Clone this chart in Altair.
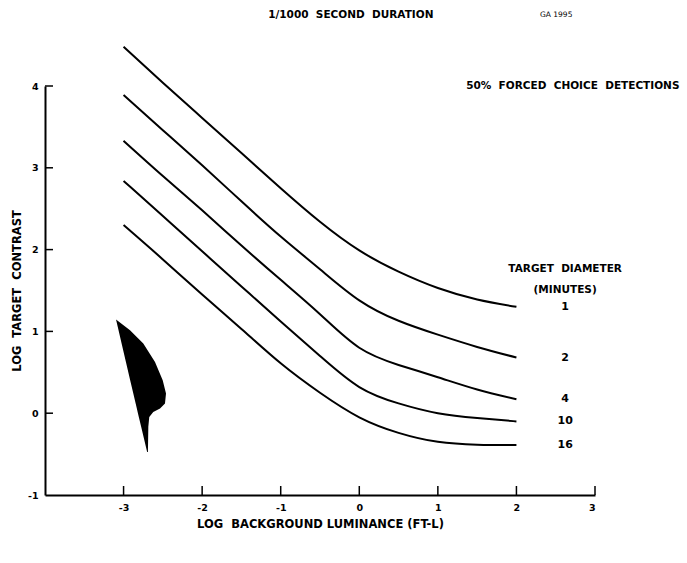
import altair as alt
import pandas as pd

# Log background luminance (ft-L) sample points for every curve
luminance = [-3, -2.5, -2, -1.5, -1, -0.5, 0, 0.5, 1, 1.5, 2]

# Log target contrast at 50% forced-choice detection, per target diameter (minutes)
diam_1 = [4.48, 4.04, 3.61, 3.18, 2.75, 2.34, 1.99, 1.73, 1.53, 1.39, 1.30]
diam_2 = [3.89, 3.46, 3.03, 2.59, 2.16, 1.76, 1.38, 1.13, 0.96, 0.81, 0.68]
diam_4 = [3.33, 2.90, 2.48, 2.05, 1.63, 1.21, 0.80, 0.59, 0.44, 0.29, 0.17]
diam_10 = [2.84, 2.41, 1.98, 1.55, 1.12, 0.70, 0.32, 0.12, 0.00, -0.06, -0.10]
diam_16 = [2.30, 1.88, 1.45, 1.03, 0.61, 0.25, -0.05, -0.24, -0.35, -0.385, -0.39]

diameters = ["1", "2", "4", "10", "16"]
series = [diam_1, diam_2, diam_4, diam_10, diam_16]

# Outline of the filled blot: contrast level, left edge, right edge
blot_y = [1.145, 1.015, 0.852, 0.627, 0.403, 0.241, 0.119, 0.057, 0.016, -0.045, -0.167, -0.473]
blot_left = [-3.096, -3.064, -3.025, -2.970, -2.916, -2.876, -2.846, -2.831, -2.821, -2.806, -2.776, -2.700]
blot_right = [-3.096, -2.918, -2.749, -2.600, -2.502, -2.460, -2.473, -2.536, -2.622, -2.673, -2.685, -2.690]

x_ticks = [-3, -2, -1, 0, 1, 2, 3]
y_ticks = [0, 1, 2, 3, 4]
y_labels = [-1, 0, 1, 2, 3, 4]

X_DOMAIN = [-4, 3]
Y_DOMAIN = [-1, 4]
W, H = 550, 409
FONT = "DejaVu Sans"
SP = "\u00a0\u00a0"  # wide word gap that survives SVG whitespace collapsing

rows = []
for d, vals in zip(diameters, series):
    for x, y in zip(luminance, vals):
        rows.append({"diameter": d, "lum": x, "contrast": y})
curves_df = pd.DataFrame(rows)

ends_df = pd.DataFrame({"diameter": diameters, "contrast": [v[-1] for v in series]})
blot_df = pd.DataFrame({"y": blot_y, "x1": blot_left, "x2": blot_right})

xs = alt.Scale(domain=X_DOMAIN, nice=False, zero=False)
ys = alt.Scale(domain=Y_DOMAIN, nice=False, zero=False)

curves = alt.Chart(curves_df).mark_line(
    color="black", strokeWidth=2, interpolate="natural"
).encode(
    x=alt.X(
        "lum:Q", scale=xs, title="LOG" + SP + "BACKGROUND LUMINANCE (FT-L)",
        axis=alt.Axis(
            values=x_ticks, ticks=False, grid=False, domainColor="black",
            domainWidth=2, labelExpr="'' + datum.value", labelFont=FONT,
            labelFontWeight="bold", labelFontSize=9.5, labelColor="black",
            labelPadding=7, titleFont=FONT, titleFontWeight="bold",
            titleFontSize=11.5, titleColor="black", titlePadding=7,
        ),
    ),
    y=alt.Y(
        "contrast:Q", scale=ys, title="LOG" + SP + "TARGET" + SP + "CONTRAST",
        axis=alt.Axis(
            values=y_labels, ticks=False, grid=False, domainColor="black",
            domainWidth=2, labelExpr="'' + datum.value", labelFont=FONT,
            labelFontWeight="bold", labelFontSize=9.5, labelColor="black",
            labelPadding=7, titleFont=FONT, titleFontWeight="bold",
            titleFontSize=11.5, titleColor="black", titlePadding=5,
        ),
    ),
    detail="diameter:N",
)

blot = alt.Chart(blot_df).mark_area(color="black", orient="horizontal").encode(
    y=alt.Y("y:Q", scale=ys),
    x=alt.X("x1:Q", scale=xs),
    x2="x2:Q",
)

# Inward-pointing tick marks on both axes
xtick_marks = alt.Chart(pd.DataFrame({"t": x_ticks})).mark_rule(
    color="black", strokeWidth=1.5
).encode(x=alt.X("t:Q", scale=xs), y=alt.value(H), y2=alt.value(H - 9))

ytick_marks = alt.Chart(pd.DataFrame({"t": y_ticks})).mark_rule(
    color="black", strokeWidth=1.5
).encode(y=alt.Y("t:Q", scale=ys), x=alt.value(0), x2=alt.value(8))

# Diameter labels beside the curve ends
end_labels = alt.Chart(ends_df).mark_text(
    font=FONT, fontWeight="bold", fontSize=11, color="black"
).encode(
    x=alt.datum(2.62, scale=xs),
    y=alt.Y("contrast:Q", scale=ys),
    text="diameter:N",
)

notes_df = pd.DataFrame({
    "label": ["1/1000" + SP + "SECOND" + SP + "DURATION",
              "50%" + SP + "FORCED" + SP + "CHOICE" + SP + "DETECTIONS",
              "TARGET" + SP + "DIAMETER", "(MINUTES)"],
    "x": [-1.16, 1.36, 2.62, 2.62],
    "y": [4.87, 4.0, 1.763, 1.506],
    "align": ["left", "left", "center", "center"],
})

notes_left = alt.Chart(notes_df[notes_df["align"] == "left"]).mark_text(
    font=FONT, fontWeight="bold", fontSize=10.5, color="black", align="left"
).encode(x=alt.X("x:Q", scale=xs), y=alt.Y("y:Q", scale=ys), text="label:N")

notes_center = alt.Chart(notes_df[notes_df["align"] == "center"]).mark_text(
    font=FONT, fontWeight="bold", fontSize=10.5, color="black", align="center"
).encode(x=alt.X("x:Q", scale=xs), y=alt.Y("y:Q", scale=ys), text="label:N")

stamp = alt.Chart(pd.DataFrame({"label": ["GA 1995"]})).mark_text(
    font=FONT, fontSize=7.5, color="black", align="left"
).encode(x=alt.datum(2.30, scale=xs), y=alt.datum(4.87, scale=ys), text="label:N")

chart = alt.layer(
    curves, blot, xtick_marks, ytick_marks, end_labels, notes_left, notes_center, stamp
).properties(
    width=W, height=H,
    autosize=alt.AutoSizeParams(type="none"),
    padding={"left": 45, "top": 86, "right": 92, "bottom": 68},
    background="white",
).configure_view(stroke=None)

chart.save("out.html", embed_options={"renderer": "svg", "actions": False})
